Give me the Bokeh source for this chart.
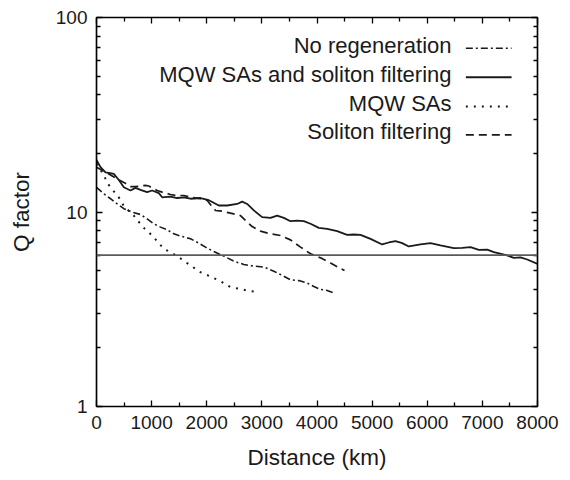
from bokeh.plotting import figure
from bokeh.models import (Range1d, FixedTicker, LinearAxis, LogAxis, Span,
                          CustomJSTickFormatter, BasicTickFormatter)
from bokeh.core.properties import value
from bokeh.embed import file_html
from bokeh.resources import INLINE

# ---------------- data ----------------
no_regen_x = [0, 133, 254, 375, 496, 647, 798, 919, 1040, 1161, 1282, 1403, 1554, 1705,
              1856, 1977, 2129, 2310, 2491, 2673, 2854, 3036, 3217, 3368, 3519, 3671,
              3822, 3943, 4064, 4185, 4318]
no_regen_q = [13.4, 12.4, 11.7, 11.0, 10.4, 9.98, 9.71, 9.22, 8.70, 8.36, 8.10, 7.72, 7.48,
              7.28, 6.92, 6.60, 6.26, 5.93, 5.59, 5.37, 5.27, 5.21, 4.96, 4.72, 4.48, 4.44,
              4.31, 4.14, 4.00, 3.95, 3.83]

both_x = [0, 73, 163, 224, 314, 405, 496, 617, 708, 798, 919, 1010, 1131, 1191, 1342,
          1463, 1584, 1705, 1887, 2038, 2219, 2370, 2552, 2643, 2733, 2854, 3005, 3157,
          3277, 3398, 3519, 3640, 3761, 3882, 4033, 4185, 4366, 4547, 4668, 4789, 4971,
          5182, 5303, 5424, 5545, 5666, 5878, 6059, 6240, 6482, 6634, 6785, 6936, 7087,
          7208, 7450, 7571, 7692, 7813, 8000]
both_q = [18.5, 17.0, 16.0, 15.9, 15.7, 14.6, 13.4, 12.9, 13.3, 13.0, 12.65, 12.9, 12.5,
          11.9, 12.0, 11.8, 11.9, 11.7, 11.8, 11.5, 10.8, 10.8, 11.0, 11.3, 11.0, 10.2,
          9.41, 9.33, 9.59, 9.33, 8.97, 9.04, 8.97, 8.70, 8.29, 8.19, 7.97, 7.63, 7.66,
          7.63, 7.28, 6.81, 6.97, 7.08, 6.92, 6.65, 6.81, 6.92, 6.73, 6.52, 6.54, 6.60,
          6.39, 6.41, 6.22, 5.98, 5.81, 5.85, 5.70, 5.41]

mqw_x = [0, 133, 194, 302, 423, 496, 677, 756, 877, 1010, 1221, 1373, 1494, 1645, 1887,
         2068, 2249, 2431, 2582, 2733, 2854]
mqw_q = [17.7, 15.5, 14.1, 12.9, 11.7, 10.7, 9.59, 8.97, 8.19, 7.57, 6.47, 6.14, 5.85,
         5.46, 4.90, 4.66, 4.41, 4.11, 4.03, 3.95, 3.90]

filt_x = [0, 224, 375, 496, 617, 708, 889, 949, 1101, 1191, 1342, 1433, 1584, 1705, 1917,
          2008, 2080, 2159, 2280, 2431, 2612, 2703, 2824, 2975, 3157, 3338, 3519, 3701,
          3882, 4064, 4245, 4499]
filt_q = [17.0, 15.7, 14.8, 14.2, 13.5, 13.5, 13.7, 13.6, 12.9, 12.65, 12.3, 12.16, 12.16,
          11.9, 11.7, 11.46, 10.8, 10.18, 10.1, 9.86, 9.59, 9.04, 8.42, 7.97, 7.72, 7.57,
          7.19, 6.60, 6.10, 5.81, 5.46, 5.00]

threshold_q = 6

series_names = ["No regeneration", "MQW SAs and soliton filtering", "MQW SAs",
                "Soliton filtering"]

x_major = [0, 1000, 2000, 3000, 4000, 5000, 6000, 7000, 8000]
x_minor = [500, 1500, 2500, 3500, 4500, 5500, 6500, 7500]
y_major = [1, 10, 100]
y_minor = [2, 3, 4, 5, 6, 7, 8, 9, 20, 30, 40, 50, 60, 70, 80, 90]

# ---------------- layout / styles ----------------
FONT = "Liberation Sans"
INK = "#1a1a1a"
LEG_TEXT_X = 6440
LEG_LINE_X0, LEG_LINE_X1 = 6700, 7530
LEG_Y = [69.5, 49.3, 34.9, 24.9]

styles = [
    dict(line_dash="7 3 2 3", line_width=1.6),
    dict(line_dash="solid", line_width=1.8),
    dict(line_dash="2 6", line_width=2.0),
    dict(line_dash="8 5", line_width=1.7),
]
data = [(no_regen_x, no_regen_q), (both_x, both_q), (mqw_x, mqw_q), (filt_x, filt_q)]

p = figure(width=570, height=480, x_range=Range1d(0, 8000), y_range=Range1d(1, 100),
           y_axis_type="log", output_backend="svg", toolbar_location=None,
           min_border_left=96, min_border_right=33, min_border_top=17,
           min_border_bottom=74)
p.background_fill_color = "white"
p.border_fill_color = "white"
p.outline_line_color = "black"
p.outline_line_width = 1.2
p.xgrid.visible = False
p.ygrid.visible = False

def style_axis(ax):
    ax.axis_line_color = "black"
    ax.axis_line_width = 1.5
    ax.major_tick_in = 6
    ax.major_tick_out = 0
    ax.minor_tick_in = 4
    ax.minor_tick_out = 0
    ax.major_tick_line_color = "black"
    ax.minor_tick_line_color = "black"
    ax.major_tick_line_width = 1.3
    ax.minor_tick_line_width = 1.3
    ax.major_label_text_font = FONT
    ax.major_label_text_font_size = "19px"
    ax.major_label_text_color = INK
    ax.axis_label_text_font = FONT
    ax.axis_label_text_font_size = "22.5px"
    ax.axis_label_text_font_style = "normal"
    ax.axis_label_text_color = INK

xt = FixedTicker(ticks=x_major, minor_ticks=x_minor)
yt = FixedTicker(ticks=y_major, minor_ticks=y_minor)

xa = p.xaxis[0]
style_axis(xa)
xa.ticker = xt
xa.axis_label = "Distance (km)"
xa.major_label_standoff = 9
xa.axis_label_standoff = 13

ya = p.yaxis[0]
style_axis(ya)
ya.ticker = yt
ya.formatter = BasicTickFormatter()
ya.axis_label = "Q factor"
ya.major_label_standoff = 9
ya.axis_label_standoff = 19

blank = "return ''"
top = LinearAxis(ticker=FixedTicker(ticks=x_major, minor_ticks=x_minor),
                 formatter=CustomJSTickFormatter(code=blank))
style_axis(top)
top.major_label_text_font_size = "0px"
top.major_label_standoff = 0
p.add_layout(top, "above")

right = LogAxis(ticker=FixedTicker(ticks=y_major, minor_ticks=y_minor),
                formatter=CustomJSTickFormatter(code=blank))
style_axis(right)
right.major_label_text_font_size = "0px"
right.major_label_standoff = 0
p.add_layout(right, "right")

p.add_layout(Span(location=threshold_q, dimension="width", line_color="#5a5a5a",
                  line_width=1.6))

for (xs, qs), st in zip(data, styles):
    p.line(xs, qs, line_color=INK, line_dash=st["line_dash"], line_width=st["line_width"])

# legend (text right-aligned, sample on the right)
p.text(x=[LEG_TEXT_X] * len(series_names), y=LEG_Y, text=series_names,
       text_align="right", text_baseline="middle", y_offset=-3,
       text_font=value(FONT), text_font_size="22px", text_color=INK)
for ly, st in zip(LEG_Y, styles):
    p.line([LEG_LINE_X0, LEG_LINE_X1], [ly, ly], line_color=INK,
           line_dash=st["line_dash"], line_width=st["line_width"])

open("out.html", "w").write(file_html(p, INLINE))
